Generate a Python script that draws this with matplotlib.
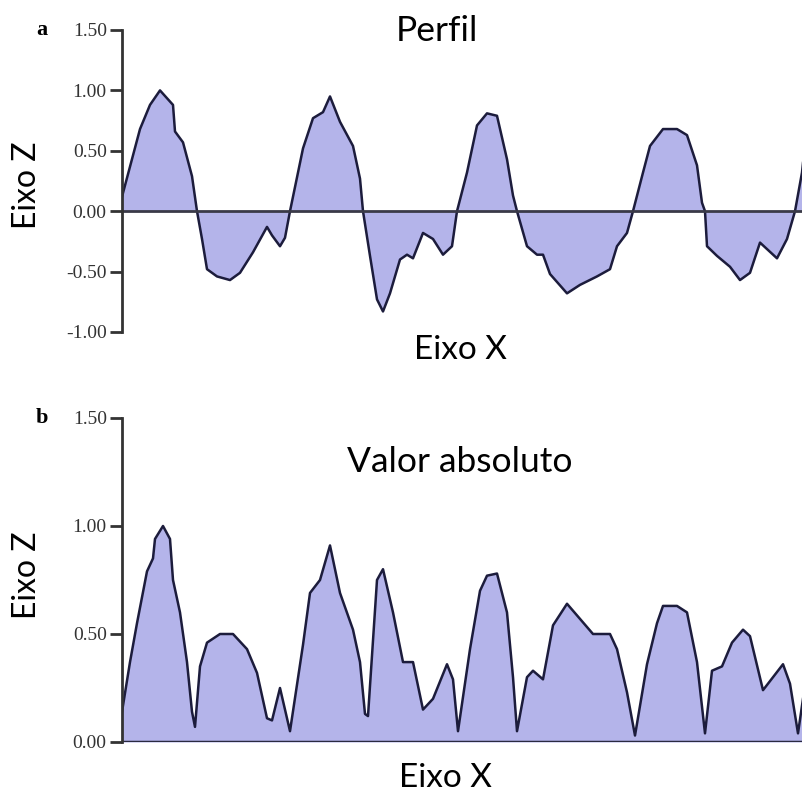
import matplotlib.pyplot as plt
import numpy as np

# panel a: profile (position along X, height Z)
pos_a = [0, 18, 28, 38, 51, 53, 61, 70, 75, 80, 85, 95, 108, 118, 131, 145, 150, 158, 163, 168,
         181, 191, 201, 208, 218, 231, 238, 241, 248, 255, 261, 268, 278, 285, 291, 301, 311, 321,
         330, 335, 345, 355, 365, 375, 385, 391, 395, 405, 415, 421, 428, 445, 458, 475, 488, 495,
         505, 511, 521, 528, 541, 555, 565, 575, 580, 583, 585, 595, 608, 618, 628, 638, 655, 665,
         673, 680, 681]
z_a = [0.12, 0.68, 0.88, 1.00, 0.88, 0.66, 0.57, 0.29, 0.0, -0.23, -0.48, -0.54, -0.57, -0.51,
       -0.34, -0.13, -0.20, -0.29, -0.22, 0.0,
       0.52, 0.77, 0.82, 0.95, 0.74, 0.54, 0.27, 0.0, -0.37, -0.73, -0.83, -0.68, -0.40, -0.36,
       -0.39, -0.18, -0.23, -0.36,
       -0.29, 0.0, 0.32, 0.71, 0.81, 0.79, 0.43, 0.13, 0.0, -0.29, -0.36, -0.36, -0.52, -0.68,
       -0.61, -0.54, -0.48, -0.29,
       -0.18, 0.0, 0.32, 0.54, 0.68, 0.68, 0.63, 0.38, 0.07, 0.0, -0.29, -0.37, -0.46, -0.57,
       -0.51, -0.26, -0.39, -0.23,
       0.0, 0.32, 0.40]

# panel b: absolute value
pos_b = [0, 8, 15, 25, 31, 33, 41, 48, 51, 58, 65, 70, 73, 78, 85, 98, 111, 125, 135, 145, 150,
         158, 168, 181, 188, 198, 208, 218, 231, 238, 243, 246, 255, 261, 271, 281, 291, 301, 311,
         325, 331, 336, 348, 358, 365, 375, 385, 391, 395, 405, 411, 421, 431, 445, 458, 471, 488,
         495, 505, 513, 525, 535, 541, 555, 565, 575, 583, 590, 600, 610, 621, 628, 641, 661, 668,
         676, 681]
z_b = [0.14, 0.37, 0.55, 0.79, 0.85, 0.94, 1.00, 0.94, 0.75, 0.60, 0.37, 0.14, 0.07, 0.35, 0.46,
       0.50, 0.50, 0.43, 0.32, 0.11, 0.10,
       0.25, 0.05, 0.45, 0.69, 0.75, 0.91, 0.69, 0.52, 0.37, 0.13, 0.12, 0.75, 0.80, 0.60, 0.37,
       0.37, 0.15, 0.20,
       0.36, 0.29, 0.05, 0.43, 0.70, 0.77, 0.78, 0.60, 0.30, 0.05, 0.30, 0.33, 0.29, 0.54, 0.64,
       0.57, 0.50, 0.50,
       0.43, 0.23, 0.03, 0.36, 0.55, 0.63, 0.63, 0.60, 0.37, 0.04, 0.33, 0.35, 0.46, 0.52, 0.49,
       0.24, 0.36, 0.27,
       0.04, 0.20]

ticks_a = [-1.0, -0.5, 0.0, 0.5, 1.0, 1.5]
ticks_b = [0.0, 0.5, 1.0, 1.5]

fill_c = "#b4b4ea"
line_c = "#1c1c3c"
spine_c = "#333333"

fig = plt.figure(figsize=(8.03, 7.92), dpi=100)
ax1 = fig.add_axes([122/803, 1-332/792, 681/803, 302/792])
ax2 = fig.add_axes([122/803, 1-742/792, 681/803, 324/792])

ax1.fill_between(pos_a, z_a, 0, color=fill_c, lw=0)
ax1.plot(pos_a, z_a, color=line_c, lw=1.8)
ax1.axhline(0, color="#3a3a48", lw=2)
ax1.set_ylim(-1.0, 1.5)
ax1.set_yticks(ticks_a)

ax2.fill_between(pos_b, z_b, 0, color=fill_c, lw=0)
ax2.plot(pos_b, z_b, color=line_c, lw=1.8)
ax2.axhline(0, color="#2a2a40", lw=2.5)
ax2.set_ylim(0, 1.5)
ax2.set_yticks(ticks_b)

for ax in (ax1, ax2):
    ax.set_xlim(0, 681)
    ax.set_xticks([])
    for s in ("top", "right", "bottom"):
        ax.spines[s].set_visible(False)
    ax.spines["left"].set_color(spine_c)
    ax.spines["left"].set_linewidth(2)
    ax.set_yticklabels([f"{t:.2f}" for t in ax.get_yticks()], family="Liberation Serif",
                       fontsize=14, color="#333333")
    ax.tick_params(axis="y", length=9, width=2, color=spine_c, pad=2)
    ax.patch.set_alpha(0)

lab = dict(family="Lato", color="black", ha="center", va="center")
fig.text(437/803, 1-31/792, "Perfil", fontsize=25.5, **lab)
fig.text(460/803, 1-350/792, "Eixo X", fontsize=24, **lab)
fig.text(27/803, 1-185/792, "Eixo Z", rotation=90, fontsize=23, **lab)
fig.text(460/803, 1-462/792, "Valor absoluto", fontsize=25.5, **lab)
fig.text(445/803, 1-778/792, "Eixo X", fontsize=24, **lab)
fig.text(27/803, 1-575/792, "Eixo Z", rotation=90, fontsize=23, **lab)

fig.text(42/803, 1-30/792, "a", family="Liberation Serif", fontweight="bold", fontsize=16,
         ha="center", va="center")
fig.text(42/803, 1-418/792, "b", family="Liberation Serif", fontweight="bold", fontsize=16,
         ha="center", va="center")

fig.savefig("out.png", dpi=100)
